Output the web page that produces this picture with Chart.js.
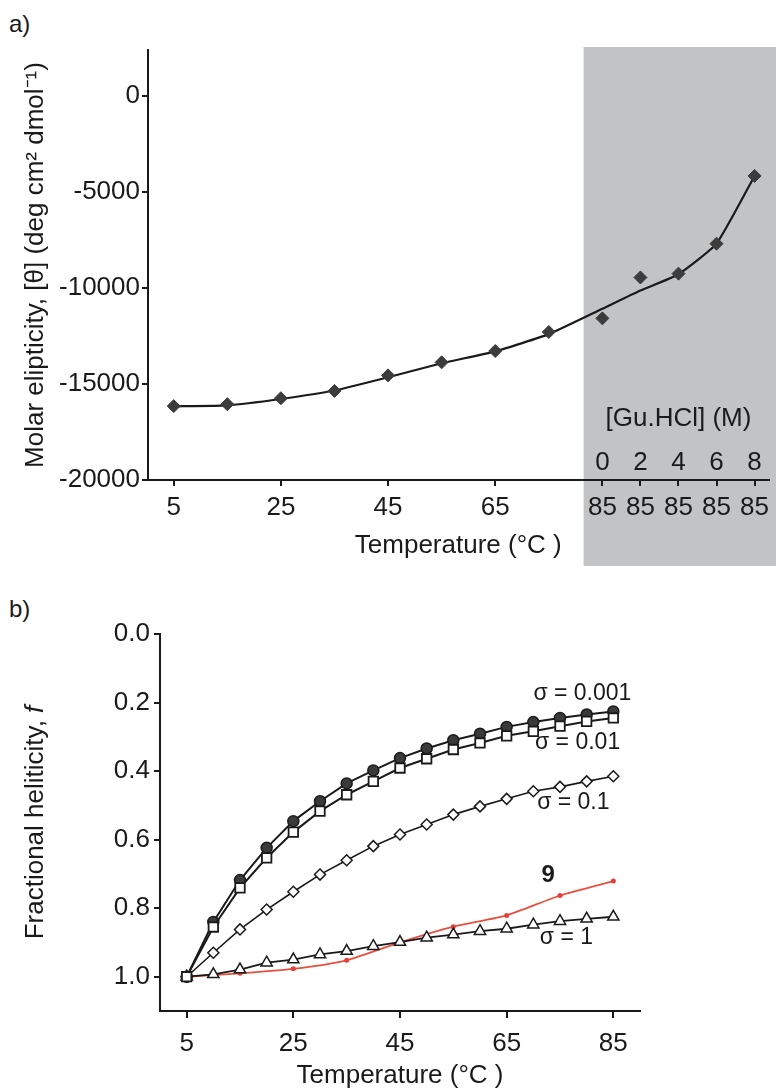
<!DOCTYPE html>
<html>
<head>
<meta charset="utf-8">
<script src="https://cdn.jsdelivr.net/npm/chart.js@4.4.1/dist/chart.umd.min.js"></script>
<style>
  body { margin: 0; background: #fff; overflow: hidden; width: 776px; height: 1089px; position: relative;
         font-family: "Liberation Sans", Arial, sans-serif; }
  .panel { position: absolute; left: 0; }
  .tag { position: absolute; left: 9px; font-size: 24px; line-height: 1; color: #1a1a1a; }
</style>
</head>
<body>
<div class="tag" style="top:12px">a)</div>
<div class="tag" style="top:597px">b)</div>
<canvas id="chartA" class="panel" style="top:0" width="776" height="580"></canvas>
<canvas id="chartB" class="panel" style="top:580px" width="776" height="512"></canvas>
<script>
// panel a: ellipticity vs temperature, then 85 °C with rising Gu.HCl
const tempA = [5, 15, 25, 35, 45, 55, 65, 75];
const guConc = ['0', '2', '4', '6', '8'];
const guSlots = [85, 92.1, 99.2, 106.3, 113.4];   // where the 85 °C points sit on the x axis
const ellipA = [-16150, -16050, -15740, -15360, -14550, -13870, -13280, -12290, -11580, -9450, -9250, -7690, -4160];
const fitA = [-16160, -16110, -15780, -15340, -14650, -13920, -13300, -12400, -11080, -10130, -9280, -7690, -4160];
const yTicksA = [0, -5000, -10000, -15000, -20000];
const xTickLabelsA = ['5', '25', '45', '65', '85', '85', '85', '85', '85'];

// panel b: fractional helicity
const tempB = [5, 10, 15, 20, 25, 30, 35, 40, 45, 50, 55, 60, 65, 70, 75, 80, 85];
const sigma0001 = [1.0, 0.84, 0.718, 0.624, 0.546, 0.488, 0.436, 0.398, 0.362, 0.334, 0.31, 0.291, 0.271, 0.257, 0.245, 0.235, 0.226];
const sigma001 = [1.0, 0.855, 0.741, 0.653, 0.578, 0.517, 0.469, 0.43, 0.391, 0.364, 0.337, 0.318, 0.297, 0.284, 0.269, 0.255, 0.245];
const sigma01 = [1.0, 0.93, 0.862, 0.804, 0.752, 0.702, 0.66, 0.619, 0.585, 0.556, 0.527, 0.503, 0.481, 0.459, 0.446, 0.43, 0.415];
const sigma1 = [1.0, 0.993, 0.979, 0.959, 0.95, 0.935, 0.925, 0.911, 0.899, 0.886, 0.877, 0.867, 0.86, 0.848, 0.838, 0.831, 0.825];
const temp9 = [5, 15, 25, 35, 45, 55, 65, 75, 85];
const helix9 = [1.0, 0.99, 0.977, 0.952, 0.9, 0.854, 0.821, 0.763, 0.721];
const yTicksB = [0, 0.2, 0.4, 0.6, 0.8, 1.0];
const xTicksB = [5, 25, 45, 65, 85];
const curveNames = ['σ = 0.001', 'σ = 0.01', 'σ = 0.1', '9', 'σ = 1'];

const ink = '#1a1a1a';
const family = '"Liberation Sans", Arial, sans-serif';
Chart.defaults.font.family = family;
Chart.defaults.color = ink;

function pts(xs, ys) {
  return ys.map((v, i) => ({ x: xs[i], y: v }));
}

const axisLine = { display: true, color: ink, width: 2 };
const tickMarks = len => ({ display: true, drawOnChartArea: false, drawTicks: true, tickLength: len, color: ink, lineWidth: 2 });

// grey block behind the Gu.HCl points, plus its own labels
const guShade = {
  id: 'guShade',
  beforeDraw(chart) {
    const { ctx, chartArea, scales: { x } } = chart;
    const left = x.getPixelForValue(81.5);
    const top = chartArea.top - 3;
    ctx.save();
    ctx.fillStyle = '#c1c3c4';
    ctx.fillRect(left, top, chart.width - left, chartArea.bottom + 86 - top);
    ctx.restore();
  },
  afterDatasetsDraw(chart) {
    const { ctx, chartArea, scales: { x } } = chart;
    ctx.save();
    ctx.fillStyle = ink;
    ctx.font = '26px ' + family;
    ctx.textAlign = 'center';
    ctx.textBaseline = 'middle';
    guSlots.forEach((v, i) => ctx.fillText(guConc[i], x.getPixelForValue(v), chartArea.bottom - 17));
    const mid = (x.getPixelForValue(guSlots[0]) + x.getPixelForValue(guSlots[guSlots.length - 1])) / 2;
    ctx.fillText('[Gu.HCl] (M)', mid, chartArea.bottom - 61);
    ctx.restore();
  }
};

const xA = tempA.concat(guSlots);

new Chart(document.getElementById('chartA'), {
  type: 'line',
  data: {
    datasets: [
      {
        data: pts(xA, ellipA),
        showLine: false,
        pointStyle: 'rectRot',
        pointRadius: 6.5,
        pointBackgroundColor: '#3c3c3c',
        pointBorderColor: '#3c3c3c',
        pointBorderWidth: 1
      },
      {
        data: pts(xA, fitA),
        borderColor: ink,
        borderWidth: 2.2,
        pointRadius: 0,
        tension: 0.15,
        fill: false
      }
    ]
  },
  options: {
    responsive: false,
    animation: false,
    plugins: { legend: { display: false }, tooltip: { enabled: false } },
    layout: { padding: { top: 50, right: 0, bottom: 0, left: 0 } },
    scales: {
      x: {
        type: 'linear',
        min: 0.2,
        max: 116,
        afterBuildTicks: s => { s.ticks = [5, 25, 45, 65].concat(guSlots).map(v => ({ value: v })); },
        afterFit: s => { s.height = 100; },
        ticks: { autoSkip: false, maxRotation: 0, padding: 6, font: { size: 26 }, callback: (v, i) => xTickLabelsA[i] },
        grid: tickMarks(6),
        border: axisLine,
        title: { display: true, text: 'Temperature (°C )', font: { size: 26 }, padding: { top: 0, bottom: 19 } }
      },
      y: {
        type: 'linear',
        min: -20000,
        max: 2400,
        afterBuildTicks: s => { s.ticks = yTicksA.map(v => ({ value: v })); },
        afterFit: s => { s.width = 148; },
        ticks: { padding: 2, font: { size: 26 }, callback: v => String(v) },
        grid: tickMarks(6),
        border: axisLine,
        title: { display: true, text: 'Molar elipticity, [θ] (deg cm² dmol⁻¹)', font: { size: 26 }, padding: { top: 20, bottom: 0 } }
      }
    }
  },
  plugins: [guShade]
});

// curve names and the y title (with italic f) for panel b
const curveSpots = [[79.2, 0.174], [78.3, 0.317], [77.5, 0.493], [72.8, 0.705], [76.2, 0.886]];

const panelBText = {
  id: 'panelBText',
  afterDraw(chart) {
    const { ctx, chartArea, scales: { x, y } } = chart;
    ctx.save();
    ctx.fillStyle = ink;
    ctx.textAlign = 'center';
    ctx.textBaseline = 'middle';
    curveNames.forEach((name, i) => {
      ctx.font = (name === '9' ? 'bold 24px ' : '23px ') + family;
      ctx.fillText(name, x.getPixelForValue(curveSpots[i][0]), y.getPixelForValue(curveSpots[i][1]));
    });

    const main = 'Fractional heliticity, ';
    ctx.font = '26px ' + family;
    const w1 = ctx.measureText(main).width;
    ctx.font = 'italic 26px ' + family;
    const w2 = ctx.measureText('f').width;
    ctx.translate(36, (chartArea.top + chartArea.bottom) / 2);
    ctx.rotate(-Math.PI / 2);
    ctx.textAlign = 'left';
    const start = -(w1 + w2) / 2;
    ctx.font = '26px ' + family;
    ctx.fillText(main, start, 0);
    ctx.font = 'italic 26px ' + family;
    ctx.fillText('f', start + w1, 0);
    ctx.restore();
  }
};

const openMark = { pointBackgroundColor: '#fff', pointBorderColor: ink, borderColor: ink, fill: false, tension: 0 };

new Chart(document.getElementById('chartB'), {
  type: 'line',
  data: {
    datasets: [
      Object.assign({ data: pts(tempB, sigma001), pointStyle: 'rect', pointRadius: 6.7, pointBorderWidth: 1.8, borderWidth: 2 }, openMark),
      { data: pts(tempB, sigma0001), pointStyle: 'circle', pointRadius: 5.5, pointBackgroundColor: '#3a3a3a', pointBorderColor: ink,
        pointBorderWidth: 1.5, borderColor: ink, borderWidth: 2, fill: false, tension: 0 },
      Object.assign({ data: pts(tempB, sigma01), pointStyle: 'rectRot', pointRadius: 5.5, pointBorderWidth: 1.5, borderWidth: 1.6 }, openMark),
      Object.assign({ data: pts(tempB, sigma1), pointStyle: 'triangle', pointRadius: 6.5, pointBorderWidth: 1.5, borderWidth: 1.8 }, openMark),
      { data: pts(temp9, helix9), pointStyle: 'circle', pointRadius: 2.5, pointBackgroundColor: '#e2403a', pointBorderColor: '#e2403a',
        pointBorderWidth: 0, borderColor: '#e5503f', borderWidth: 1.8, fill: false, tension: 0.2 }
    ]
  },
  options: {
    responsive: false,
    animation: false,
    plugins: { legend: { display: false }, tooltip: { enabled: false } },
    layout: { padding: { top: 54, right: 136, bottom: 0, left: 0 } },
    scales: {
      x: {
        type: 'linear',
        min: 0,
        max: 90,
        afterBuildTicks: s => { s.ticks = xTicksB.map(v => ({ value: v })); },
        afterFit: s => { s.height = 81; },
        ticks: { autoSkip: false, maxRotation: 0, padding: 10, font: { size: 26 }, callback: v => String(v) },
        grid: tickMarks(7),
        border: axisLine,
        title: { display: true, text: 'Temperature (°C )', font: { size: 26 }, padding: { top: 0, bottom: 1 } }
      },
      y: {
        type: 'linear',
        reverse: true,
        min: 0,
        max: 1.1,
        afterBuildTicks: s => { s.ticks = yTicksB.map(v => ({ value: v })); },
        afterFit: s => { s.width = 160; },
        ticks: { padding: 4, font: { size: 26 }, callback: v => v.toFixed(1) },
        grid: tickMarks(6),
        border: axisLine
      }
    }
  },
  plugins: [panelBText]
});
</script>
</body>
</html>
